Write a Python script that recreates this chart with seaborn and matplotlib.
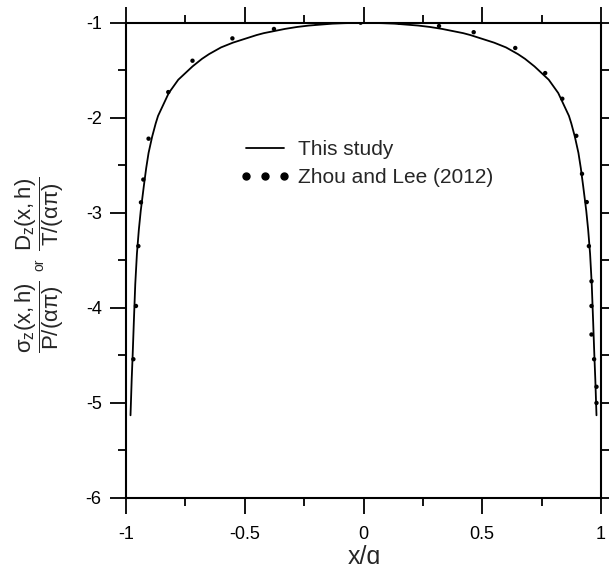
import matplotlib
matplotlib.use("Agg")
import matplotlib.pyplot as plt
from matplotlib.ticker import AutoMinorLocator
from matplotlib.lines import Line2D
import seaborn as sns
import pandas as pd

# Normalised stress along the contact line (this study)
line_x = [-0.981, -0.976, -0.972, -0.967, -0.961, -0.954, -0.946, -0.938, -0.925,
          -0.915, -0.905, -0.89, -0.875, -0.865, -0.85, -0.835, -0.82, -0.80, -0.78,
          -0.75, -0.72, -0.68, -0.65, -0.60, -0.55, -0.50, -0.45, -0.42, -0.38,
          -0.33, -0.28, -0.23, -0.18, -0.13, -0.08, 0.0,
          0.08, 0.13, 0.18, 0.23, 0.28, 0.33, 0.38, 0.42, 0.45, 0.50, 0.55, 0.60,
          0.65, 0.68, 0.72, 0.75, 0.78, 0.80, 0.82, 0.835, 0.85, 0.865, 0.875,
          0.89, 0.905, 0.915, 0.925, 0.938, 0.946, 0.954, 0.961, 0.967, 0.972,
          0.976, 0.981]
line_y = [-5.13, -4.75, -4.50, -4.15, -3.75, -3.43, -3.18, -2.98, -2.72,
          -2.53, -2.37, -2.20, -2.06, -1.98, -1.90, -1.82, -1.74, -1.67, -1.60,
          -1.53, -1.46, -1.38, -1.33, -1.26, -1.21, -1.17, -1.13, -1.11, -1.09,
          -1.065, -1.045, -1.03, -1.02, -1.01, -1.005, -1.0,
          -1.005, -1.01, -1.02, -1.03, -1.045, -1.065, -1.09, -1.11, -1.13, -1.17,
          -1.21, -1.26, -1.33, -1.38, -1.46, -1.53, -1.60, -1.67, -1.74, -1.82,
          -1.90, -1.98, -2.06, -2.20, -2.37, -2.53, -2.72, -2.98, -3.18, -3.43,
          -3.75, -4.15, -4.50, -4.75, -5.13]

# Reference solution points (Zhou and Lee, 2012)
ref_x = [-0.969, -0.958, -0.948, -0.937, -0.927, -0.905, -0.822, -0.72, -0.552,
         -0.377, -0.2, -0.012, 0.151, 0.318, 0.464, 0.639, 0.765, 0.837, 0.896,
         0.92, 0.94, 0.949, 0.96, 0.96, 0.96, 0.971, 0.981, 0.981]
ref_y = [-4.54, -3.98, -3.35, -2.89, -2.65, -2.22, -1.73, -1.40, -1.165,
         -1.066, -1.0, -1.0, -1.0, -1.035, -1.10, -1.266, -1.53, -1.80, -2.19,
         -2.59, -2.887, -3.35, -3.72, -3.98, -4.28, -4.54, -4.83, -5.0]

x_ticks = [-1, -0.5, 0, 0.5, 1]
x_tick_labels = ["-1", "-0.5", "0", "0.5", "1"]
y_ticks = [-6, -5, -4, -3, -2, -1]
y_tick_labels = ["-6", "-5", "-4", "-3", "-2", "-1"]
legend_labels = ["This study", "Zhou and Lee (2012)"]

sns.set_style("ticks")
plt.rcParams["font.family"] = ["Liberation Sans", "DejaVu Sans"]
plt.rcParams["mathtext.fontset"] = "custom"
plt.rcParams["mathtext.rm"] = "Liberation Sans"
plt.rcParams["mathtext.it"] = "Liberation Sans"
plt.rcParams["mathtext.bf"] = "Liberation Sans:bold"

fig = plt.figure(figsize=(6.09, 5.76), dpi=100)
W, H = 609, 576
ax = fig.add_axes([126 / W, 1 - 498 / H, (601 - 126) / W, (498 - 22.7) / H])

line_df = pd.DataFrame({"x": line_x, "y": line_y})
ref_df = pd.DataFrame({"x": ref_x, "y": ref_y})

sns.lineplot(data=line_df, x="x", y="y", ax=ax, color="black", lw=1.3,
             estimator=None, sort=False, legend=False)
sns.scatterplot(data=ref_df, x="x", y="y", ax=ax, color="black", s=10,
                edgecolor="none", legend=False, zorder=3)

ax.set_xlim(-1, 1)
ax.set_ylim(-6, -1)
ax.set_xticks(x_ticks)
ax.set_xticklabels(x_tick_labels)
ax.set_yticks(y_ticks)
ax.set_yticklabels(y_tick_labels)
ax.xaxis.set_minor_locator(AutoMinorLocator(2))
ax.yaxis.set_minor_locator(AutoMinorLocator(2))

for sp in ax.spines.values():
    sp.set_visible(True)
    sp.set_color("black")
    sp.set_linewidth(1.5)

ax.tick_params(which="both", direction="out", top=True, right=True,
               colors="black", width=1.3)
ax.tick_params(which="major", length=11.5, labelsize=13, pad=6)
ax.tick_params(which="minor", length=6)
ax.tick_params(axis="x", which="major", pad=9)

ax.set_xlabel("")
ax.set_ylabel("")
fig.text(364 / W, 1 - 564 / H, "x/\u0251", fontsize=18, ha="center", va="baseline")

# Stacked y-axis label built from two fractions
fig.text(40 / W, 1 - 317 / H, r"$\dfrac{\sigma_z(x,h)}{P/(\alpha\pi)}$",
         rotation=90, fontsize=16, ha="center", va="center")
fig.text(39 / W, 1 - 265 / H, "or", rotation=90, fontsize=10,
         ha="center", va="center")
fig.text(40 / W, 1 - 214 / H, r"$\dfrac{D_z(x,h)}{T/(\alpha\pi)}$",
         rotation=90, fontsize=16, ha="center", va="center")

handles = [Line2D([], [], color="black", lw=1.3),
           Line2D([], [], color="black", linestyle="none", marker="o", markersize=5)]
ax.legend(handles, legend_labels, loc="upper left",
          bbox_to_anchor=(240 / W, 1 - 140 / H), bbox_transform=fig.transFigure,
          frameon=False, fontsize=15, handlelength=2.4, handletextpad=0.4,
          numpoints=3, labelspacing=0.45, borderpad=0, borderaxespad=0)

fig.savefig("out.png", dpi=100)
